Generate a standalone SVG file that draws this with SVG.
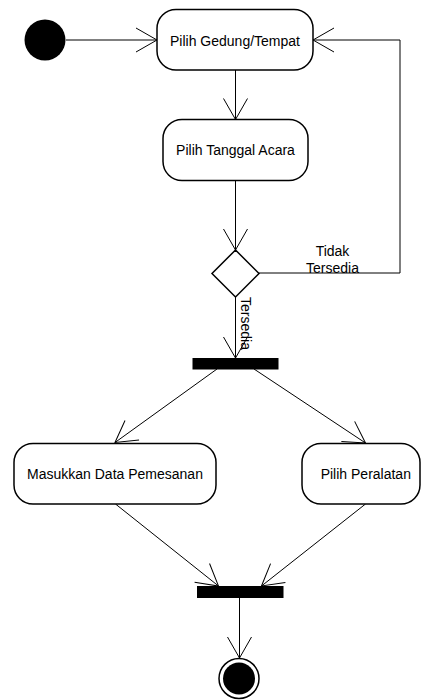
<svg xmlns="http://www.w3.org/2000/svg" width="421" height="700" viewBox="0 0 421 700">
  <style>
    .act { fill: #ffffff; stroke: #000000; stroke-width: 1.5; }
    .lbl { font-family: "Liberation Sans", Arial, sans-serif; font-size: 14px; fill: #000000; }
    .mid { text-anchor: middle; }
    .flow { fill: none; stroke: #000000; stroke-width: 1; marker-end: url(#open); }
    .plain { fill: none; stroke: #000000; stroke-width: 1; }
    .bar { fill: #000000; }
  </style>
  <defs>
    <marker id="open" viewBox="-23 -14 25 28" refX="0" refY="0" markerWidth="25" markerHeight="28" markerUnits="userSpaceOnUse" orient="auto">
      <path d="M-21,-12 L0,0 L-21,12" fill="none" stroke="#000000" stroke-width="1"/>
    </marker>
  </defs>

  <rect width="421" height="700" fill="#ffffff"/>

  <!-- transitions -->
  <g id="connectors">
    <path class="flow" d="M66,40 L157,40"/>
    <path class="flow" d="M235.5,70 L235.5,119.5"/>
    <path class="flow" d="M235.5,181 L235.5,250"/>
    <path class="flow" d="M259,273 L400,273 L400,40 L313,40"/>
    <path class="flow" d="M235.5,297 L235.5,358"/>
    <path class="flow" d="M217,369 L115,442.5"/>
    <path class="flow" d="M254,369 L365.5,443"/>
    <path class="flow" d="M115.5,504 L218.5,586"/>
    <path class="flow" d="M365.5,504 L261.5,586"/>
    <path class="flow" d="M239.5,598 L239.5,658"/>
    <text class="lbl mid" x="332.5" y="255.5">Tidak</text>
    <text class="lbl mid" x="332.5" y="272.5">Tersedia</text>
    <text class="lbl" transform="translate(241,297) rotate(90)">Tersedia</text>
  </g>

  <g id="start">
    <circle cx="45" cy="40" r="20.5" fill="#000000"/>
  </g>

  <g id="pilih-gedung">
    <rect class="act" x="157" y="9.5" width="156" height="60.5" rx="19" ry="19"/>
    <text class="lbl mid" x="235" y="45.5">Pilih Gedung/Tempat</text>
  </g>

  <g id="pilih-tanggal">
    <rect class="act" x="163" y="119.5" width="145" height="61" rx="19" ry="19"/>
    <text class="lbl mid" x="235.5" y="155">Pilih Tanggal Acara</text>
  </g>

  <g id="cek-ketersediaan">
    <polygon class="act" points="235.5,250 259,273.5 235.5,297 212,273.5"/>
  </g>

  <g id="fork">
    <rect class="bar" x="192.5" y="358" width="86" height="11.5"/>
  </g>

  <g id="masukkan-data">
    <rect class="act" x="14" y="443.5" width="202" height="60.5" rx="19" ry="19"/>
    <text class="lbl mid" x="115" y="478.5">Masukkan Data Pemesanan</text>
  </g>

  <g id="pilih-peralatan">
    <rect class="act" x="302" y="443.5" width="118" height="60.5" rx="19" ry="19"/>
    <text class="lbl mid" x="365.8" y="478.5">Pilih Peralatan</text>
  </g>

  <g id="join">
    <rect class="bar" x="197" y="586" width="86.5" height="12"/>
  </g>

  <g id="end">
    <circle cx="239" cy="678.5" r="20" fill="#ffffff" stroke="#000000" stroke-width="1.5"/>
    <circle cx="239" cy="678.5" r="16" fill="#000000"/>
  </g>
</svg>
